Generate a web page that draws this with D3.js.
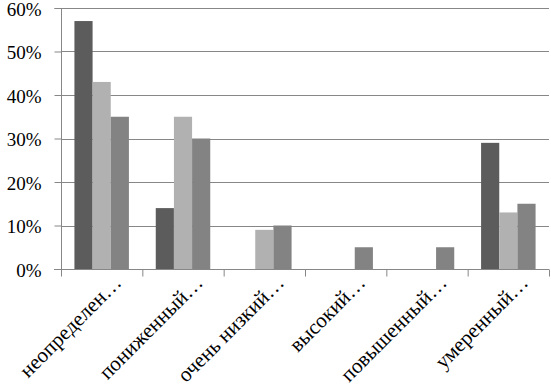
<!DOCTYPE html>
<html>
<head>
<meta charset="utf-8">
<script src="https://cdn.jsdelivr.net/npm/d3@7"></script>
<style>
  body { margin: 0; background: #fff; }
</style>
</head>
<body>
<svg id="chart" width="551" height="390"></svg>
<script>
// categories on the x axis
var categories = ["неопределен…", "пониженный…", "очень низкий…", "высокий…", "повышенный…", "умеренный…"];
// three unnamed series (percent)
var series = ["s1", "s2", "s3"];
var s1 = [57, 14, 0, 0, 0, 29];
var s2 = [43, 35, 9, 0, 0, 13];
var s3 = [35, 30, 10, 5, 5, 15];
var yTicks = [0, 10, 20, 30, 40, 50, 60];

var colors = {s1: "#5c5c5c", s2: "#b1b1b1", s3: "#838383"};
var values = {s1: s1, s2: s2, s3: s3};
var FONT = "'Liberation Serif', 'Times New Roman', 'Liberation Sans', Arial, sans-serif";

var m = {l: 61, r: 2, t: 8, b: 121};
var W = 551, H = 390;
var svg = d3.select("#chart");

var y = d3.scaleLinear().domain([0, 60]).range([H - m.b, m.t]);

// group band per category
var x0 = d3.scaleBand()
	.domain(categories)
	.range([m.l, W - m.r])
	.paddingInner(0.33)
	.paddingOuter(0.165);

var x1 = d3.scaleBand()
	.domain(series)
	.range([0, x0.bandwidth()]);

// boundaries for category ticks
var xb = d3.scaleLinear().domain([0, categories.length]).range([m.l, W - m.r]);

// gridlines
svg.append("g")
	.selectAll("line").data(yTicks.slice(1)).enter()
	.append("line")
	.attr("x1", m.l).attr("x2", W - m.r)
	.attr("y1", function(d){ return Math.round(y(d)) + 0.5; })
	.attr("y2", function(d){ return Math.round(y(d)) + 0.5; })
	.attr("stroke", "#878787").attr("stroke-width", 1);

// bars
var groups = svg.append("g").selectAll("g").data(categories).enter()
	.append("g")
	.attr("transform", function(d){ return "translate(" + x0(d) + ",0)"; });

groups.selectAll("rect")
	.data(function(c, i){ return series.map(function(s){ return {s: s, v: values[s][i]}; }); })
	.enter().append("rect")
	.filter(function(d){ return d.v > 0; })
	.attr("x", function(d){ return x1(d.s); })
	.attr("y", function(d){ return y(d.v); })
	.attr("width", x1.bandwidth())
	.attr("height", function(d){ return y(0) - y(d.v); })
	.attr("fill", function(d){ return colors[d.s]; });

// y axis
var yAxis = svg.append("g")
	.attr("transform", "translate(" + (m.l + 0.5) + ",0)")
	.call(d3.axisLeft(y).tickValues(yTicks).tickSize(7).tickPadding(13)
		.tickFormat(function(d){ return d + "%"; }));
yAxis.attr("font-family", FONT);
yAxis.select(".domain").attr("stroke", "#878787").attr("d", "M-7," + (Math.round(y(60)) + 0.5) + "H0V" + (Math.round(y(0)) + 0.5) + "H-7");
yAxis.selectAll(".tick line").attr("stroke", "#878787");
yAxis.selectAll(".tick text")
	.attr("font-family", FONT).attr("font-size", 19)
	.attr("fill", "#000").attr("dy", "0.38em");

// x axis
var xAxis = svg.append("g")
	.attr("transform", "translate(0," + (Math.round(y(0)) + 0.5) + ")")
	.call(d3.axisBottom(xb).tickValues(d3.range(categories.length + 1)).tickSize(7).tickFormat(""));
xAxis.select(".domain").attr("stroke", "#878787").attr("d", "M" + (m.l - 7) + ",0H" + (W - m.r));
xAxis.selectAll(".tick line").attr("stroke", "#878787");

// rotated category labels
svg.append("g").selectAll("text").data(categories).enter()
	.append("text")
	.attr("transform", function(d){
		var cx = x0(d) + x0.bandwidth() / 2;
		return "translate(" + (cx + 21) + "," + (y(0) + 15) + ") rotate(-45)";
	})
	.attr("text-anchor", "end")
	.attr("font-family", FONT)
	.attr("font-size", 21)
	.attr("fill", "#000")
	.text(function(d){ return d; });
</script>
</body>
</html>
